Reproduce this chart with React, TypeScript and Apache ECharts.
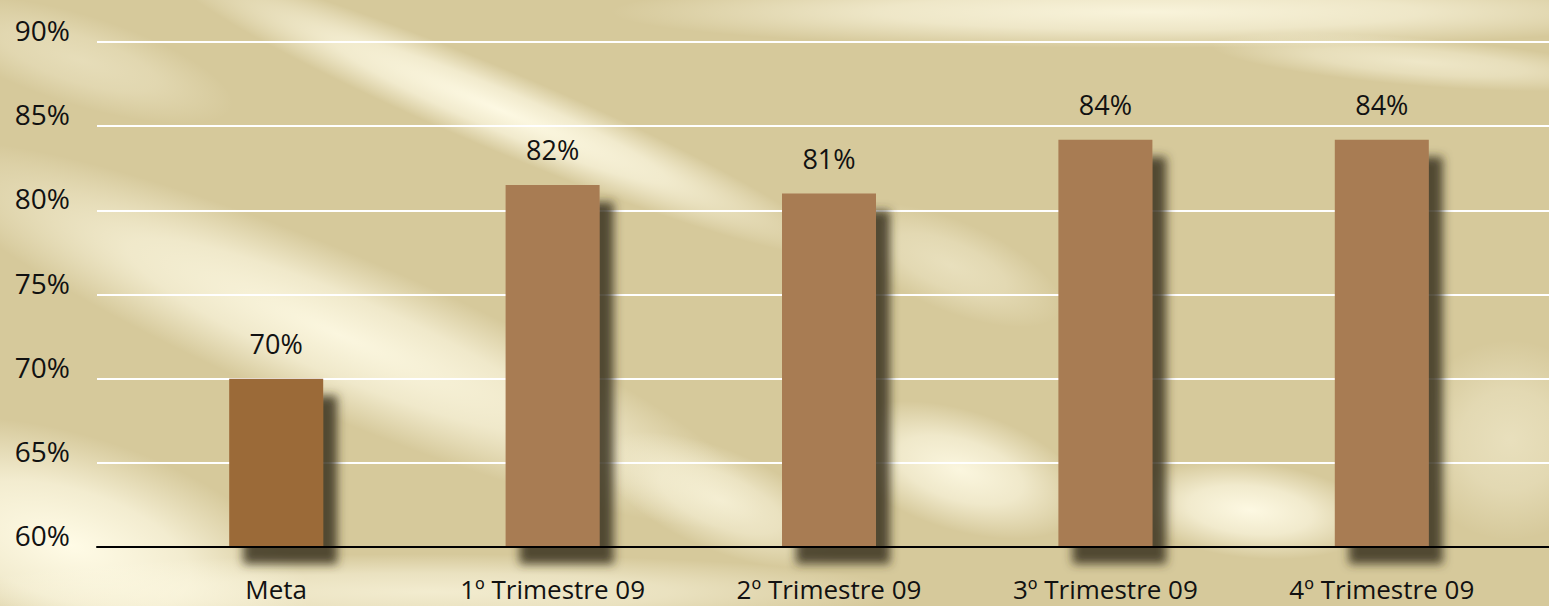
import React, { useEffect, useRef } from "react";
import * as echarts from "echarts";

const categories = ["Meta", "1º Trimestre 09", "2º Trimestre 09", "3º Trimestre 09", "4º Trimestre 09"];
const values = [70, 81.5, 81.0, 84.2, 84.2];
const barColors = ["#9B6A38", "#A87B52", "#A87B52", "#A87B52", "#A87B52"];
const yMin = 60;
const yMax = 90;
const yStep = 5;

const FONT = "'Open Sans', 'Noto Sans', sans-serif";

function glow(cx: number, cy: number, rx: number, ry: number, slope: number, a: number) {
  return {
    type: "ellipse",
    silent: true,
    z: -10,
    x: cx,
    y: cy,
    rotation: -slope,
    shape: { cx: 0, cy: 0, rx, ry },
    style: {
      fill: new echarts.graphic.RadialGradient(0.5, 0.5, 0.5, [
        { offset: 0, color: `rgba(255,251,230,${a})` },
        { offset: 0.5, color: `rgba(255,251,230,${a * 0.7})` },
        { offset: 1, color: "rgba(255,251,230,0)" },
      ]),
    },
  };
}

export default function App() {
  const ref = useRef<HTMLDivElement>(null);
  useEffect(() => {
    if (!ref.current) return;
    const chart = echarts.init(ref.current, null, { renderer: "svg" });
    chart.setOption({
      animation: false,
      backgroundColor: "#D6C99B",
      graphic: [
        glow(500, 110, 360, 40, 0.4, 0.95),
        glow(340, 335, 460, 80, 0.4, 0.9),
        glow(70, 545, 250, 110, 0.3, 1),
        glow(430, 592, 480, 38, 0, 0.7),
        glow(1150, 12, 540, 36, 0, 0.85),
        glow(1420, 62, 210, 24, 0.08, 0.6),
        glow(960, 470, 130, 60, 0.3, 0.9),
        glow(1250, 510, 125, 48, 0.1, 0.95),
        glow(950, 265, 120, 45, 0.4, 0.45),
        glow(1510, 440, 100, 100, 0, 0.45),
        glow(80, 60, 160, 45, 0.3, 0.4),
        glow(720, 500, 130, 50, 0.4, 0.7),
      ],
      grid: [
        { left: 97, right: 0, top: 42, bottom: 59 },
        { left: 138, right: 29, top: 42, bottom: 59 },
      ],
      xAxis: [
        {
          gridIndex: 0,
          type: "value",
          min: 0,
          max: 1,
          axisLine: { show: true, onZero: false, lineStyle: { color: "#000", width: 2 } },
          axisTick: { show: false },
          axisLabel: { show: false },
          splitLine: { show: false },
          z: 5,
        },
        {
          gridIndex: 1,
          type: "category",
          data: categories,
          axisLine: { show: false },
          axisTick: { show: false },
          axisLabel: {
            margin: 29,
            color: "#111",
            fontSize: 26,
            lineHeight: 26,
            fontFamily: FONT,
          },
        },
      ],
      yAxis: [
        {
          gridIndex: 0,
          type: "value",
          min: yMin,
          max: yMax,
          interval: yStep,
          axisLine: { show: false },
          axisTick: { show: false },
          axisLabel: {
            formatter: "{value}%",
            margin: 27,
            color: "#111",
            fontSize: 28,
            lineHeight: 28,
            verticalAlign: "bottom",
            padding: [0, 0, -2, 0],
            fontFamily: FONT,
          },
          splitLine: { show: true, lineStyle: { color: "#FFFFFF", width: 2 } },
        },
        {
          gridIndex: 1,
          type: "value",
          min: yMin,
          max: yMax,
          interval: yStep,
          show: false,
          splitLine: { show: false },
        },
      ],
      series: [
        {
          type: "bar",
          xAxisIndex: 1,
          yAxisIndex: 1,
          barWidth: 94,
          data: values.map((v, i) => ({ value: v, itemStyle: { color: barColors[i] } })),
          itemStyle: {
            shadowColor: "rgba(55,50,35,0.85)",
            shadowBlur: 10,
            shadowOffsetX: 14,
            shadowOffsetY: 17,
          },
          label: {
            show: true,
            position: "top",
            distance: 22,
            color: "#111",
            fontSize: 27,
            fontFamily: FONT,
            formatter: (p: any) => Math.round(p.value) + "%",
          },
        },
      ],
    });
    return () => chart.dispose();
  }, []);
  return <div ref={ref} style={{ width: 1549, height: 606, position: "fixed", left: 0, top: 0 }} />;
}
